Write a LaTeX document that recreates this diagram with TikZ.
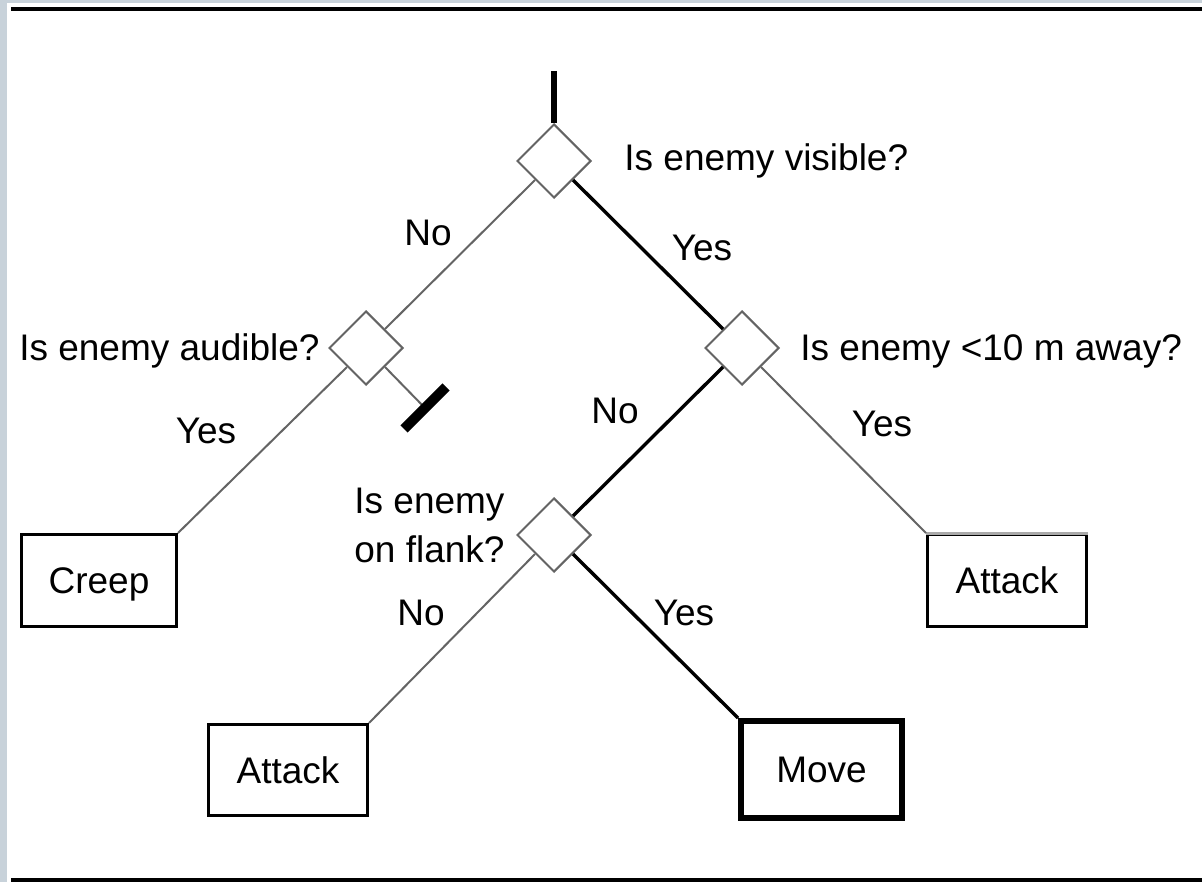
\documentclass[tikz,border=0pt]{standalone}
\usepackage{fontspec}
\setmainfont{Liberation Sans}
\usetikzlibrary{shapes.geometric}
\definecolor{stripgray}{RGB}{200,210,218}
\definecolor{wiregray}{RGB}{100,100,100}
\definecolor{lidgray}{RGB}{170,170,170}
\tikzset{
	decision/.style={draw=wiregray, line width=1pt, shape=diamond, aspect=1, inner sep=0pt, minimum size=37pt, fill=white},
	leaf/.style={draw, line width=1.5pt, inner sep=0pt, minimum width=79.5pt, minimum height=46pt, text height=13pt, text depth=0pt, font=\fontsize{18.5}{21}\selectfont},
	quiet/.style={draw=wiregray, line width=1pt},
	taken/.style={draw=black, line width=1.7pt},
	lbl/.style={inner sep=0pt, font=\fontsize{18.5}{21}\selectfont},
}
\begin{document}
\begin{tikzpicture}[x=0.5pt,y=-0.5pt]
		\useasboundingbox (0,0) rectangle (1202,882);
		\fill[stripgray] (0,0) rectangle (7,882);
		\fill[stripgray] (0,0) rectangle (1202,3);
		\fill (11,7) rectangle (1202,11);
		\fill (11,878) rectangle (1202,882);
		
		\coordinate (entry) at (554,71);
		\coordinate (blk) at (425,408);
		
		\node[decision] (vis) at (554,161) {};
		\node[decision] (aud) at (366,348) {};
		\node[decision] (dist) at (742,348) {};
		\node[decision] (flk) at (554,535) {};
		
		\node[leaf, minimum width=77.5pt] (creep) at (99,580.5) {Creep};
		\node[leaf] (atkfar) at (1007,580.5) {Attack};
		\node[leaf, minimum height=45.5pt] (atknear) at (288,770) {Attack};
		\node[leaf, line width=3.2pt, minimum width=80.3pt, minimum height=48.3pt] (move) at (821.5,769.5) {Move};
		\draw[lidgray, line width=1.5pt] (atkfar.north west) -- (atkfar.north east);
		
		\draw[line width=3pt] (entry) -- (vis.north);
		\draw[quiet] (vis.south west) -- (aud.north east);
		\draw[taken] (vis.south east) -- (dist.north west);
		\draw[quiet] (aud.south west) -- (creep.north east);
		\draw[quiet] (aud.south east) -- (blk);
		\draw[line width=5pt] ([shift={(-21,21)}]blk) -- ([shift={(21,-21)}]blk);
		\draw[taken] (dist.south west) -- (flk.north east);
		\draw[quiet] (dist.south east) -- (atkfar.north west);
		\draw[quiet] (flk.south west) -- (atknear.north east);
		\draw[taken] (flk.south east) -- (move.north west);
		
		\node[lbl, anchor=base west] (qvis) at (624,170) {Is enemy visible?};
		\node[lbl, anchor=base east] (qaud) at (320,360) {Is enemy audible?};
		\node[lbl, anchor=base west] (qdist) at (800,360) {Is enemy <10 m away?};
		\node[lbl, anchor=base west] (qflk1) at (354,513) {Is enemy};
		\node[lbl, anchor=base west] (qflk2) at (354,562) {on flank?};
		
		\node[lbl, anchor=base] (visno) at (428,245) {No};
		\node[lbl, anchor=base] (visyes) at (702,260) {Yes};
		\node[lbl, anchor=base] (audyes) at (206,443) {Yes};
		\node[lbl, anchor=base] (distno) at (615,423) {No};
		\node[lbl, anchor=base] (distyes) at (882,436) {Yes};
		\node[lbl, anchor=base] (flkno) at (421,625) {No};
		\node[lbl, anchor=base] (flkyes) at (684,625) {Yes};
\end{tikzpicture}
\end{document}
